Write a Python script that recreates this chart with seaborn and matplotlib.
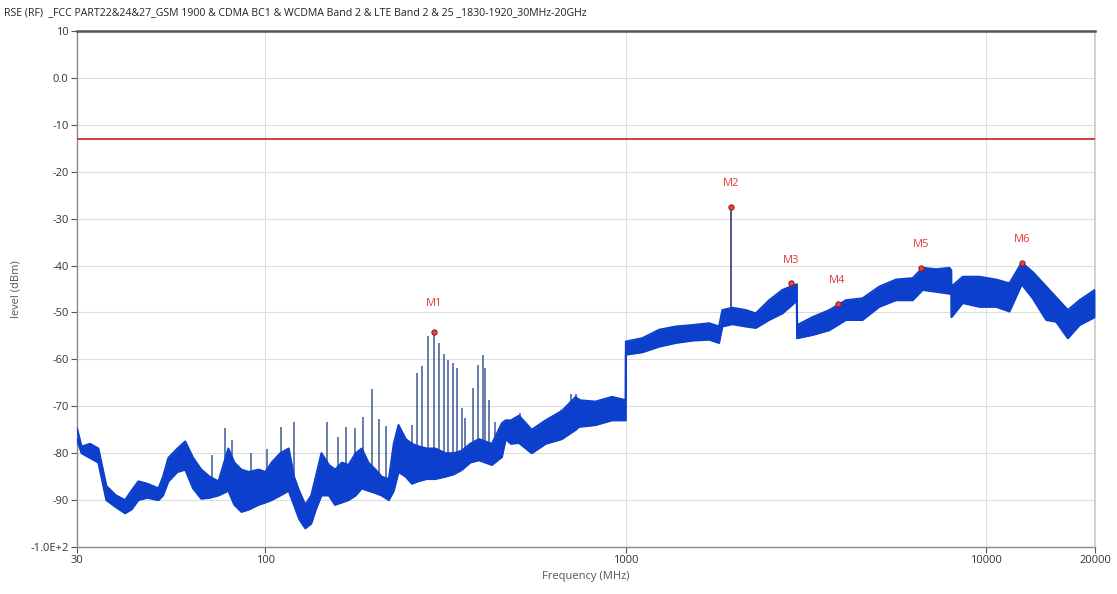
import numpy as np
import matplotlib
matplotlib.use("Agg")
import matplotlib.pyplot as plt
import seaborn as sns

# <-----------------------------------------------------------------------------> datos
title = "RSE (RF)  _FCC PART22&24&27_GSM 1900 & CDMA BC1 & WCDMA Band 2 & LTE Band 2 & 25 _1830-1920_30MHz-20GHz"

# envolvente del ruido: frecuencia (MHz), nivel minimo y maximo (dBm)
band_freq = [30.0, 30.9, 32.6, 34.4, 36.2, 38.5, 40.8, 42.5, 44.4, 47, 50.5, 52, 53.8, 57, 59.9,
             63, 66.4, 70, 74.1, 78.9, 82, 85.8, 90, 95.7, 100, 104, 110, 116, 120, 124, 129,
             134, 138, 143, 150, 156, 163, 170, 178, 185, 193, 202, 210, 220, 227, 234, 245,
             255, 265, 280, 296, 316, 333, 350, 370, 391, 425, 453, 464, 480, 505, 548, 599,
             664, 726, 740, 824, 915, 999,
             1000, 1110, 1236, 1375, 1529, 1701, 1813, 1852, 1974, 2151, 2293, 2497, 2719, 2931, 2980,
             2985, 3295, 3666, 4078, 4534, 5046, 5615, 6245, 6655, 7252, 7898, 7990,
             8000, 8599, 9566, 10644, 11591, 12535, 13454, 14659, 15625, 16831, 18134, 20000]
band_low = [-77, -80, -81, -82, -90, -91.5, -92.8, -92, -90, -89.5, -90, -89, -86, -84, -83.5,
            -87.5, -89.7, -89.5, -89, -88, -91, -92.5, -92, -91, -90.5, -90, -89, -88, -91, -94, -96,
            -95, -92, -89, -89, -91, -90.5, -90, -89, -87.5, -88, -88.5, -89, -90, -88, -84, -85,
            -86.5, -86, -85.5, -85.5, -85, -84.5, -83.6, -82, -81.5, -82.5, -80.8, -77, -78, -77.8, -80, -78,
            -77, -75, -74.4, -74, -73, -73,
            -59, -58.5, -57.3, -56.5, -56, -55.8, -56.5, -53, -52.5, -53, -53.3, -51.6, -50.2, -48, -47.5,
            -55.5, -54.8, -53.8, -51.6, -51.6, -48.8, -47.4, -47.4, -45.2, -45.6, -46, -46,
            -51, -48, -48.8, -48.8, -49.8, -44, -47, -51.6, -52, -55.5, -52.7, -51]
band_high = [-74.7, -78.6, -78, -79, -87, -89, -90, -88, -86, -86.5, -87.5, -85, -81, -79, -77.5,
             -81, -83.5, -85, -86, -79, -82, -83.5, -84, -83.5, -84, -82, -80, -79, -85, -88, -91,
             -89, -85, -80, -82.5, -83.5, -82, -82.5, -80, -79, -82, -83.5, -85, -85.5, -78, -74, -77,
             -78, -78.5, -79, -79, -80, -80, -79.5, -78, -77, -78, -73.6, -73, -73, -72, -75, -73,
             -71, -68, -68.7, -69, -68, -68.7,
             -56.2, -55.5, -53.7, -53, -52.7, -52.3, -53, -49.5, -49, -49.5, -50.2, -47.4, -45.2, -44.2, -44,
             -52.7, -51, -49.5, -47.4, -47, -44.5, -43, -42.7, -40.5, -40.8, -40.5, -41,
             -44.5, -42.4, -42.4, -43, -43.8, -39.4, -41.4, -44.5, -46.8, -49.5, -47.4, -45.2]

# espigas (frecuencia, nivel de pico)
spike_freq = [71, 77.3, 80.6, 91.3, 100.9, 110.6, 120.2, 148.5, 159, 167.6, 177.6, 186.4, 197.4,
              206.1, 216.5, 255, 263.3, 272.6, 282.5, 293, 302.5, 312.3, 321, 331.5, 340, 351,
              358.8, 376.8, 389, 400.8, 407.7, 416.5, 434.7, 510, 659, 702, 726, 740, 1962]
spike_top = [-80.4, -74.7, -77.2, -80, -79, -74.4, -73.3, -73.3, -76.5, -74.5, -74.6, -72.2, -66.4,
             -72.8, -74.2, -74, -62.9, -61.4, -55, -54.1, -56.6, -58.9, -60.1, -60.7, -61.9, -70.4,
             -72.4, -66.2, -61.2, -59.1, -61.9, -68.7, -73.3, -71.5, -70.8, -67.3, -67.3, -68.3, -27.5]

# marcadores
marker_names = ["M1", "M2", "M3", "M4", "M5", "M6"]
marker_freq = [293, 1962, 2877, 3865, 6590, 12540]
marker_level = [-54.1, -27.5, -43.8, -48.1, -40.5, -39.4]

limit_level = -13

x_ticks = [30, 100, 1000, 10000, 20000]
y_ticks = [10, 0, -10, -20, -30, -40, -50, -60, -70, -80, -90, -100]
y_tick_labels = ["10", "0.0", "-10", "-20", "-30", "-40", "-50", "-60", "-70", "-80", "-90", "-1.0E+2"]

# <-----------------------------------------------------------------------------> estilo
sns.set_style("whitegrid", {"grid.color": "#dedede", "axes.edgecolor": "#999999"})
plt.rcParams["font.family"] = ["Open Sans", "DejaVu Sans"]

blue = "#0c3fcc"

fig = plt.figure(figsize=(11.17, 5.94), dpi=100)
ax = fig.add_axes([0.0689, 0.079, 0.9113, 0.869])

# espigas debajo del ruido
spike_base = np.interp(np.log10(spike_freq), np.log10(band_freq), band_low)
spike_colors = ["#1c2b6b" if f == 1962 else "#3d5a96" for f in spike_freq]
ax.vlines(spike_freq, spike_base, spike_top, colors=spike_colors, linewidth=1.1, zorder=2)

# ruido
ax.fill_between(band_freq, band_low, band_high, color=blue, linewidth=0, zorder=3)
sns.lineplot(x=band_freq, y=band_high, ax=ax, color=blue, linewidth=1.5, estimator=None, zorder=3)
sns.lineplot(x=band_freq, y=band_low, ax=ax, color=blue, linewidth=1.5, estimator=None, zorder=3)

# limite
ax.axhline(limit_level, color="#c9302c", linewidth=1.3, zorder=4)

# marcadores
sns.scatterplot(x=marker_freq, y=marker_level, ax=ax, s=14, color="#e8474a",
                edgecolor="#a01818", linewidth=0.8, zorder=5)
for name, f, lv in zip(marker_names, marker_freq, marker_level):
    off = 28 if name == "M1" else 23
    ax.annotate(name, (f, lv), xytext=(0, off), textcoords="offset pixels",
                ha="center", va="center", fontsize=8, color="#e03a3a")

# <-----------------------------------------------------------------------------> ejes
ax.set_xscale("log")
ax.set_xlim(30, 20000)
ax.set_ylim(-100, 10)
ax.set_xticks(x_ticks)
ax.set_xticklabels([str(t) for t in x_ticks])
ax.minorticks_off()
ax.set_yticks(y_ticks)
ax.set_yticklabels(y_tick_labels)
ax.tick_params(axis="both", which="major", length=4, width=0.8, color="#555555",
               labelsize=8, labelcolor="#333333", pad=2)
ax.tick_params(axis="x", bottom=True)
ax.tick_params(axis="y", left=True)

for s in ["left", "bottom"]:
    ax.spines[s].set_color("#8a8a8a")
    ax.spines[s].set_linewidth(1.0)
ax.spines["top"].set_color("#555555")
ax.spines["top"].set_linewidth(1.8)
ax.spines["right"].set_color("#c8c8c8")
ax.spines["right"].set_linewidth(1.2)

ax.set_xlabel("Frequency (MHz)", fontsize=8, color="#555555", labelpad=3)
ax.set_ylabel("level (dBm)", fontsize=8, color="#555555", labelpad=6)

fig.text(0.004, 0.978, title, fontsize=7.6, color="#222222", va="center", ha="left")

plt.savefig("out.png", dpi=100)
